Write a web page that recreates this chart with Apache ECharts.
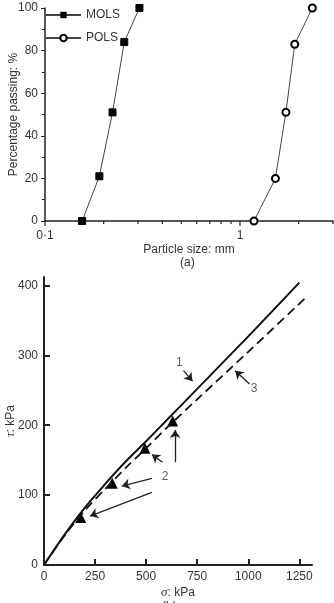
<!DOCTYPE html>
<html>
<head>
<meta charset="utf-8">
<script src="https://cdn.jsdelivr.net/npm/echarts@6/dist/echarts.min.js"></script>
<style>
  html, body { margin: 0; padding: 0; background: #fff; }
  .chart { width: 334px; height: 603px; }
</style>
</head>
<body>
<div class="chart"></div>
<script>
// (a) grading curves
const molsSize = [0.155, 0.19, 0.222, 0.255, 0.305];
const molsPass = [0, 21, 51, 84, 100];
const polsSize = [1.18, 1.52, 1.72, 1.91, 2.35];
const polsPass = [0, 20, 51, 83, 100];
const sizeTicks = [0.1, 0.2, 0.3, 0.4, 0.5, 0.6, 0.7, 0.8, 0.9, 1, 2, 3];

// (b) shear strength envelopes
const sigma1 = [0, 100, 200, 300, 400, 500, 600, 750, 1000, 1250];
const tau1 = [0, 43, 82, 116, 148, 177, 207, 252, 327, 404];
const sigma3 = [0, 100, 200, 300, 400, 500, 600, 750, 1000, 1280];
const tau3 = [0, 42, 78, 109, 139, 167, 196, 237, 305, 382];
const sigma2 = [180, 334, 494, 630];
const tau2 = [68, 117, 167, 206];
const sigmaTicks = [0, 250, 500, 750, 1000, 1250];
const tauTicks = [0, 100, 200, 300, 400];

// callout arrows (from -> to) and their numbers, in kPa
const arrowFrom = [[683, 278], [1006, 259], [528, 104], [528, 124], [580, 147], [642, 147]];
const arrowTo = [[727, 263], [936, 278], [225, 70], [381, 113], [528, 158], [642, 193]];
const calloutText = ['1', '3', '2'];
const calloutAt = [[662, 289], [1029, 252], [593, 126]];

(function () {
  const chart = echarts.init(document.querySelector('.chart'));
  const font = '"Liberation Sans", Arial, sans-serif';
  const ink = '#222';
  const pair = (xs, ys) => xs.map((x, i) => [x, ys[i]]);

  let option = {
    animation: false,
    textStyle: { fontFamily: font },
    legend: {
      data: ['MOLS', 'POLS'],
      orient: 'vertical',
      left: 45,
      top: 9,
      padding: 0,
      itemWidth: 35,
      itemHeight: 8,
      itemGap: 11,
      textStyle: { color: '#333', fontSize: 12 }
    },
    grid: [
      { left: 45, top: 8, right: 1, height: 213, containLabel: false, outerBoundsMode: 'none' },
      { left: 44, top: 277, width: 268, height: 288, containLabel: false, outerBoundsMode: 'none' }
    ],
    xAxis: [
      {
        gridIndex: 0,
        type: 'log',
        logBase: 10,
        min: 0.1,
        max: 3,
        name: 'Particle size: mm',
        nameLocation: 'middle',
        nameGap: 23,
        nameMoveOverlap: false,
        nameTextStyle: { color: '#333', fontSize: 12 },
        axisLine: { lineStyle: { color: ink, width: 1.5 } },
        axisTick: { show: false },
        axisLabel: {
          color: '#333',
          fontSize: 12,
          margin: 9,
          formatter: function (v) {
            if (Math.abs(v - 0.1) < 1e-9) return '0·1';
            if (Math.abs(v - 1) < 1e-9) return '1';
            return '';
          }
        },
        splitLine: { show: false }
      },
      {
        gridIndex: 1,
        type: 'value',
        min: 0,
        max: 1312,
        name: '{i|σ}: kPa',
        nameLocation: 'middle',
        nameGap: 21,
        nameMoveOverlap: false,
        nameTextStyle: {
          color: '#333', fontSize: 12,
          rich: { i: { fontStyle: 'italic', fontFamily: '"Liberation Serif", serif', fontSize: 13, color: '#333' } }
        },
        axisLine: { lineStyle: { color: ink, width: 2 } },
        axisTick: { inside: true, length: 6, lineStyle: { width: 2, color: ink }, customValues: sigmaTicks },
        axisLabel: { color: '#333', fontSize: 12, margin: 6, customValues: sigmaTicks, formatter: v => String(v) },
        splitLine: { show: false }
      }
    ],
    yAxis: [
      {
        gridIndex: 0,
        type: 'value',
        min: 0,
        max: 100,
        interval: 20,
        name: 'Percentage passing: %',
        nameLocation: 'middle',
        nameGap: 25,
        nameMoveOverlap: false,
        nameTextStyle: { color: '#333', fontSize: 12 },
        axisLine: { show: true, lineStyle: { color: ink, width: 1.5 } },
        axisTick: { show: true, length: 4, lineStyle: { color: ink } },
        minorTick: { show: true, splitNumber: 2, length: 3, lineStyle: { color: ink } },
        axisLabel: { color: '#333', fontSize: 12, margin: 7 },
        splitLine: { show: false }
      },
      {
        gridIndex: 1,
        type: 'value',
        min: 0,
        max: 412,
        name: '{i|τ}: kPa',
        nameLocation: 'middle',
        nameGap: 27,
        nameMoveOverlap: false,
        nameTextStyle: {
          color: '#333', fontSize: 12,
          rich: { i: { fontStyle: 'italic', fontFamily: '"Liberation Serif", serif', fontSize: 13, color: '#333' } }
        },
        axisLine: { show: true, lineStyle: { color: ink, width: 2 } },
        axisTick: { show: true, inside: true, length: 6, lineStyle: { width: 2, color: ink }, customValues: tauTicks },
        axisLabel: { color: '#333', fontSize: 12, margin: 6, customValues: tauTicks },
        splitLine: { show: false }
      }
    ],
    graphic: [
      { type: 'text', left: 180, top: 257, style: { text: '(a)', fill: '#333', font: '12px ' + font } },
      { type: 'text', left: 162, top: 601, style: { text: '(b)', fill: '#333', font: '12px ' + font } }
    ],
    series: [
      {
        name: 'MOLS',
        type: 'line',
        xAxisIndex: 0, yAxisIndex: 0,
        data: pair(molsSize, molsPass),
        symbol: 'rect',
        symbolSize: 7,
        clip: false,
        lineStyle: { color: '#444', width: 1 },
        itemStyle: { color: '#000', borderColor: '#000' }
      },
      {
        name: 'POLS',
        type: 'line',
        xAxisIndex: 0, yAxisIndex: 0,
        data: pair(polsSize, polsPass),
        symbol: 'emptyCircle',
        symbolSize: 7,
        clip: false,
        lineStyle: { color: '#444', width: 1 },
        itemStyle: { color: '#000', borderColor: '#000', borderWidth: 1 }
      },
      {
        // log-axis ticks, drawn below the axis line
        name: 'ticks',
        type: 'custom',
        xAxisIndex: 0, yAxisIndex: 0,
        clip: false,
        silent: true,
        data: sizeTicks.map(v => [v, 0]),
        renderItem: function (params, api) {
          const v = api.value(0);
          const p = api.coord([v, api.value(1)]);
          const major = Math.abs(Math.log10(v) - Math.round(Math.log10(v))) < 1e-9;
          return {
            type: 'line',
            shape: { x1: p[0], y1: p[1], x2: p[0], y2: p[1] + (major ? 5 : 3) },
            style: { stroke: ink, lineWidth: 1.2 }
          };
        }
      },
      {
        name: 'envelope 1',
        type: 'line',
        xAxisIndex: 1, yAxisIndex: 1,
        data: pair(sigma1, tau1),
        smooth: 0.3,
        showSymbol: false,
        lineStyle: { color: '#111', width: 2 }
      },
      {
        name: 'envelope 3',
        type: 'line',
        xAxisIndex: 1, yAxisIndex: 1,
        data: pair(sigma3, tau3),
        smooth: 0.3,
        showSymbol: false,
        lineStyle: { color: '#111', width: 1.8, type: [9, 5] }
      },
      {
        name: 'tests 2',
        type: 'scatter',
        xAxisIndex: 1, yAxisIndex: 1,
        data: pair(sigma2, tau2),
        symbol: 'triangle',
        symbolSize: 11,
        itemStyle: { color: '#000', opacity: 1 },
        markLine: {
          silent: true,
          symbol: ['none', 'arrow'],
          symbolSize: 8,
          label: { show: false },
          lineStyle: { color: ink, width: 1.3, type: 'solid' },
          data: arrowFrom.map((f, i) => [{ coord: f }, { coord: arrowTo[i] }])
        }
      },
      {
        name: 'callouts',
        type: 'scatter',
        xAxisIndex: 1, yAxisIndex: 1,
        data: calloutAt.map((c, i) => ({ value: c, name: calloutText[i] })),
        symbolSize: 0,
        silent: true,
        label: {
          show: true,
          position: 'inside',
          formatter: '{b}',
          color: '#333',
          fontSize: 12
        }
      }
    ]
  };

  chart.setOption(option);
  window.addEventListener('resize', function () {
    chart.resize();
  });
})();
</script>
</body>
</html>
